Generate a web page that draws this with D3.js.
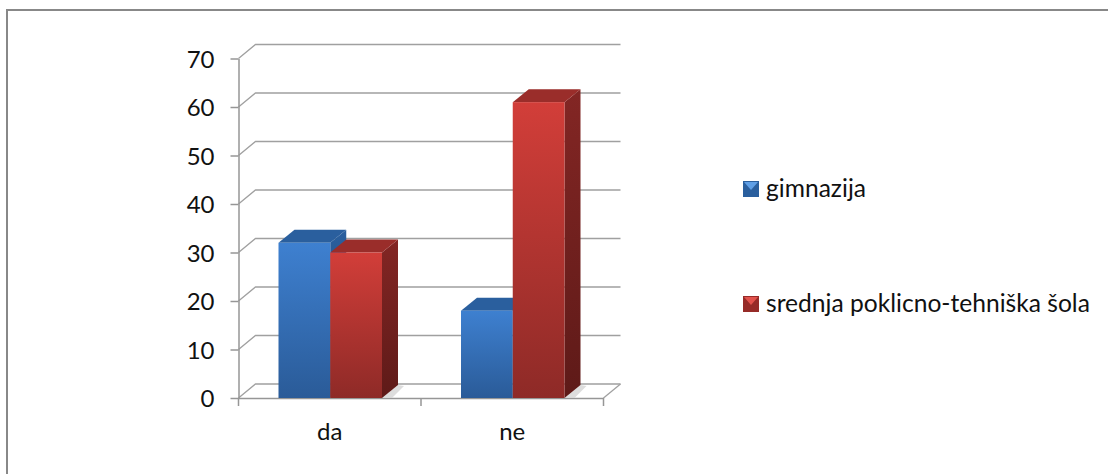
<!DOCTYPE html>
<html>
  <head>
    <meta charset="utf-8">
    <title>gimnazija / srednja poklicno-tehniska sola</title>
    <script src="https://d3js.org/d3.v7.min.js"></script>
    <style>
      html, body { margin: 0; padding: 0; background: white; overflow: hidden; }
      svg { display: block; }
      text { font-family: Lato, "Open Sans", sans-serif; fill: #111; }
    </style>
  </head>
  <body>
    <svg width="1108" height="474"></svg>
    <script>
      // Chart data
      var categories = ["da", "ne"];
      var seriesNames = ["gimnazija", "srednja poklicno-tehniška šola"];
      var gimnazija = [32, 18];
      var srednja = [30, 61];
      var seriesValues = [gimnazija, srednja];
      var yTicks = [0, 10, 20, 30, 40, 50, 60, 70];

      var svg = d3.select("svg");
      var defs = svg.append("defs");

      // Colours per series: front top/bottom, top face, side top/bottom
      var colors = [
        { front: ["#3e80d0", "#2a5b98"], top: "#2a5f9e", side: ["#2a5f9e", "#1f4675"] },
        { front: ["#d23e39", "#8e2a27"], top: "#9a2d2a", side: ["#832624", "#5e1a18"] },
      ];

      colors.forEach(function (c, i) {
        var g = defs.append("linearGradient").attr("id", "front" + i)
          .attr("x1", 0).attr("y1", 0).attr("x2", 0).attr("y2", 1);
        g.append("stop").attr("offset", "0%").attr("stop-color", c.front[0]);
        g.append("stop").attr("offset", "100%").attr("stop-color", c.front[1]);
        var s = defs.append("linearGradient").attr("id", "side" + i)
          .attr("x1", 0).attr("y1", 0).attr("x2", 0).attr("y2", 1);
        s.append("stop").attr("offset", "0%").attr("stop-color", c.side[0]);
        s.append("stop").attr("offset", "100%").attr("stop-color", c.side[1]);
      });

      // Outer frame: only the top and left edges show in the crop
      svg.append("path")
        .attr("d", "M7,474V10H1108")
        .style("fill", "none").style("stroke", "#888888").style("stroke-width", 2);

      // Scales
      var left = 238.5, right = 603.5;
      var depthX = 17, depthY = 14;
      var barDepthX = 16, barDepthY = 13;
      var y = d3.scaleLinear().domain([0, 70]).range([398, 58.5]);
      var x = d3.scaleBand().domain(categories).range([left, right]).paddingInner(0).paddingOuter(0);
      var inner = d3.scaleBand().domain([0, 1]).range([40, x.bandwidth() - 39]);

      // Back wall gridlines and the side wall diagonals
      var gridColor = "#a0a0a0";
      var grid = svg.append("g").style("stroke", gridColor).style("stroke-width", 1.3).style("fill", "none");
      yTicks.forEach(function (t) {
        grid.append("path").attr("d", d3.line()([
          [left, y(t)],
          [left + depthX, y(t) - depthY],
          [right + depthX, y(t) - depthY],
        ]));
      });
      // Floor front-right edge
      grid.append("path").attr("d", d3.line()([
        [right, y(0)],
        [right + depthX, y(0) - depthY],
      ]));

      // Axes with the library's axis helpers
      var yAxis = svg.append("g")
        .attr("transform", "translate(" + left + ",0)")
        .call(d3.axisLeft(y).tickValues(yTicks).tickSize(8).tickPadding(16).tickSizeOuter(0));
      yAxis.selectAll("text").style("font-size", "24px").attr("dy", "0.36em");
      yAxis.selectAll("line,path").style("stroke", "#969696").style("stroke-width", 1.5);

      var xAxis = svg.append("g")
        .attr("transform", "translate(0," + y(0) + ")")
        .call(d3.axisBottom(x).tickValues([]).tickSizeOuter(0));
      xAxis.selectAll("path").style("stroke", "#969696").style("stroke-width", 1.5);

      // Ticks between categories
      var xTickPositions = categories.map(function (c) { return x(c); }).concat([right]);
      svg.append("g").selectAll("line").data(xTickPositions).enter().append("line")
        .attr("x1", function (d) { return d; })
        .attr("x2", function (d) { return d; })
        .attr("y1", y(0))
        .attr("y2", y(0) + 8)
        .style("stroke", "#969696").style("stroke-width", 1.5);

      svg.append("g").selectAll("text").data(categories).enter().append("text")
        .attr("x", function (d) { return x(d) + x.bandwidth() / 2; })
        .attr("y", 440)
        .style("text-anchor", "middle")
        .style("font-size", "24px")
        .text(function (d) { return d; });

      // Bars: floor shadow first, then each bar from back to front
      categories.forEach(function (cat, ci) {
        seriesNames.forEach(function (name, si) {
          var x0 = x(cat) + inner(si);
          var x1 = x0 + inner.bandwidth();
          var yTop = y(seriesValues[si][ci]);
          var yBase = y(0);
          var g = svg.append("g");

          if (si === 1) {
            g.append("path")
              .attr("d", d3.line()([[x1, yBase], [x1 + barDepthX, yBase - barDepthY], [x1 + barDepthX + 6, yBase - barDepthY + 1], [x1 + 10, yBase]]))
              .style("fill", "#d4d4d4").style("opacity", 0.8);
          }
          // side
          g.append("path")
            .attr("d", d3.line()([
              [x1, yTop],
              [x1 + barDepthX, yTop - barDepthY],
              [x1 + barDepthX, yBase - barDepthY],
              [x1, yBase],
            ]))
            .style("fill", "url(#side" + si + ")");
          // top
          g.append("path")
            .attr("d", d3.line()([
              [x0, yTop],
              [x0 + barDepthX, yTop - barDepthY],
              [x1 + barDepthX, yTop - barDepthY],
              [x1, yTop],
            ]))
            .style("fill", colors[si].top);
          // front
          g.append("rect")
            .attr("x", x0).attr("y", yTop)
            .attr("width", x1 - x0).attr("height", yBase - yTop)
            .style("fill", "url(#front" + si + ")");
        });
      });

      // Legend
      var legendY = [189, 304];
      var legendColors = [
        { base: "#2a5f9e", tri: "#5f9fe6" },
        { base: "#962b28", tri: "#e2524c" },
      ];
      seriesNames.forEach(function (name, i) {
        var cy = legendY[i];
        var g = svg.append("g");
        g.append("rect").attr("x", 743).attr("y", cy - 8).attr("width", 16).attr("height", 16)
          .style("fill", legendColors[i].base);
        g.append("path")
          .attr("d", d3.line()([[744, cy - 7], [758, cy - 7], [751, cy + 1]]))
          .style("fill", legendColors[i].tri);
        g.append("text").attr("x", 766).attr("y", cy + 8)
          .style("font-size", "24.6px")
          .text(name);
      });
    </script>
  </body>
</html>
